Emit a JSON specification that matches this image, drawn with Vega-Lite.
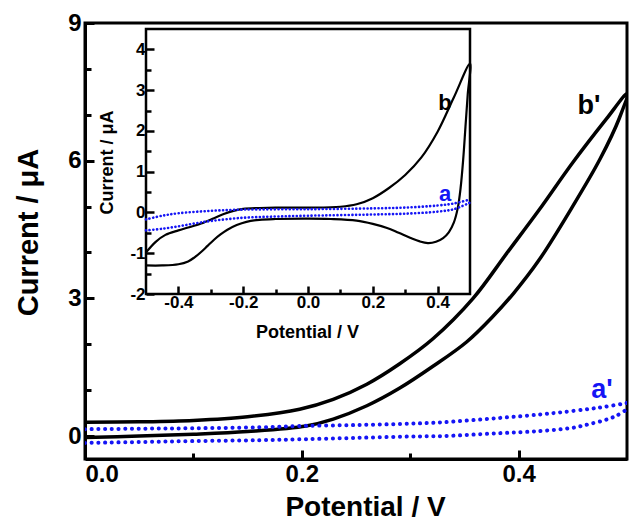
{
  "$schema": "https://vega.github.io/schema/vega-lite/v6.json",
  "width": 542,
  "height": 436,
  "padding": {"left": 85, "top": 23, "right": 2, "bottom": 66},
  "autosize": {"type": "none"},
  "config": {
    "view": {"stroke": "black", "strokeWidth": 3},
    "font": "Liberation Sans",
    "axis": {"grid": false, "labelFont": "Liberation Sans", "labelFontWeight": "bold", "labelColor": "black", "titleFont": "Liberation Sans", "titleFontWeight": "bold", "titleColor": "black", "domainColor": "black", "tickColor": "black"}
  },
  "datasets": {
    "mainB": [
      {"i": 1, "x": 0.0, "y": -0.03}, {"i": 2, "x": 0.05, "y": 0.0}, {"i": 3, "x": 0.1, "y": 0.04}, {"i": 4, "x": 0.15, "y": 0.1},
      {"i": 5, "x": 0.204, "y": 0.22}, {"i": 6, "x": 0.229, "y": 0.37}, {"i": 7, "x": 0.26, "y": 0.66}, {"i": 8, "x": 0.29, "y": 1.04},
      {"i": 9, "x": 0.321, "y": 1.52}, {"i": 10, "x": 0.352, "y": 2.05}, {"i": 11, "x": 0.376, "y": 2.6}, {"i": 12, "x": 0.395, "y": 3.1},
      {"i": 13, "x": 0.419, "y": 3.84}, {"i": 14, "x": 0.45, "y": 5.01}, {"i": 15, "x": 0.475, "y": 6.03}, {"i": 16, "x": 0.493, "y": 6.93},
      {"i": 17, "x": 0.5, "y": 7.46},
      {"i": 18, "x": 0.481, "y": 6.91}, {"i": 19, "x": 0.45, "y": 5.96}, {"i": 20, "x": 0.419, "y": 4.93}, {"i": 21, "x": 0.389, "y": 3.98},
      {"i": 22, "x": 0.358, "y": 3.0}, {"i": 23, "x": 0.321, "y": 2.12}, {"i": 24, "x": 0.29, "y": 1.57}, {"i": 25, "x": 0.26, "y": 1.13},
      {"i": 26, "x": 0.229, "y": 0.8}, {"i": 27, "x": 0.198, "y": 0.585}, {"i": 28, "x": 0.15, "y": 0.42}, {"i": 29, "x": 0.1, "y": 0.34},
      {"i": 30, "x": 0.05, "y": 0.31}, {"i": 31, "x": 0.0, "y": 0.3}
    ],
    "mainA": [
      {"br": "lo", "x": 0.0, "y": -0.15}, {"br": "lo", "x": 0.05, "y": -0.13}, {"br": "lo", "x": 0.1, "y": -0.11}, {"br": "lo", "x": 0.16, "y": -0.09},
      {"br": "lo", "x": 0.2, "y": -0.07}, {"br": "lo", "x": 0.25, "y": -0.04}, {"br": "lo", "x": 0.3, "y": -0.01}, {"br": "lo", "x": 0.33, "y": 0.0},
      {"br": "lo", "x": 0.38, "y": 0.06}, {"br": "lo", "x": 0.42, "y": 0.11}, {"br": "lo", "x": 0.45, "y": 0.18}, {"br": "lo", "x": 0.465, "y": 0.26},
      {"br": "lo", "x": 0.48, "y": 0.35}, {"br": "lo", "x": 0.49, "y": 0.44}, {"br": "lo", "x": 0.5, "y": 0.58},
      {"br": "up", "x": 0.0, "y": 0.15}, {"br": "up", "x": 0.05, "y": 0.16}, {"br": "up", "x": 0.1, "y": 0.17}, {"br": "up", "x": 0.16, "y": 0.19},
      {"br": "up", "x": 0.2, "y": 0.22}, {"br": "up", "x": 0.25, "y": 0.24}, {"br": "up", "x": 0.3, "y": 0.27}, {"br": "up", "x": 0.33, "y": 0.3},
      {"br": "up", "x": 0.38, "y": 0.39}, {"br": "up", "x": 0.42, "y": 0.47}, {"br": "up", "x": 0.44, "y": 0.52}, {"br": "up", "x": 0.465, "y": 0.59},
      {"br": "up", "x": 0.48, "y": 0.64}, {"br": "up", "x": 0.5, "y": 0.72}
    ],
    "mainLabels": [
      {"x": 0.465, "y": 7.2, "t": "b'", "c": "b"},
      {"x": 0.477, "y": 1.0, "t": "a'", "c": "a"}
    ],
    "insetB": [
      {"i": 1, "x": -0.5, "y": -0.98}, {"i": 2, "x": -0.47, "y": -0.72}, {"i": 3, "x": -0.44, "y": -0.55}, {"i": 4, "x": -0.4, "y": -0.44},
      {"i": 5, "x": -0.37, "y": -0.37}, {"i": 6, "x": -0.33, "y": -0.27}, {"i": 7, "x": -0.29, "y": -0.14}, {"i": 8, "x": -0.26, "y": -0.04},
      {"i": 9, "x": -0.23, "y": 0.04}, {"i": 10, "x": -0.2, "y": 0.09}, {"i": 11, "x": -0.15, "y": 0.11}, {"i": 12, "x": -0.1, "y": 0.12},
      {"i": 13, "x": 0.0, "y": 0.12}, {"i": 14, "x": 0.1, "y": 0.14}, {"i": 15, "x": 0.15, "y": 0.2}, {"i": 16, "x": 0.2, "y": 0.35},
      {"i": 17, "x": 0.25, "y": 0.6}, {"i": 18, "x": 0.3, "y": 0.92}, {"i": 19, "x": 0.35, "y": 1.35}, {"i": 20, "x": 0.4, "y": 1.98},
      {"i": 21, "x": 0.45, "y": 2.82}, {"i": 22, "x": 0.5, "y": 3.65},
      {"i": 23, "x": 0.493, "y": 2.9}, {"i": 24, "x": 0.486, "y": 2.1}, {"i": 25, "x": 0.479, "y": 1.3}, {"i": 26, "x": 0.471, "y": 0.6},
      {"i": 27, "x": 0.462, "y": 0.1}, {"i": 28, "x": 0.45, "y": -0.25}, {"i": 29, "x": 0.435, "y": -0.48}, {"i": 30, "x": 0.417, "y": -0.63},
      {"i": 31, "x": 0.395, "y": -0.72}, {"i": 32, "x": 0.37, "y": -0.75}, {"i": 33, "x": 0.345, "y": -0.71}, {"i": 34, "x": 0.315, "y": -0.62},
      {"i": 35, "x": 0.28, "y": -0.5}, {"i": 36, "x": 0.244, "y": -0.38}, {"i": 37, "x": 0.2, "y": -0.28}, {"i": 38, "x": 0.15, "y": -0.2},
      {"i": 39, "x": 0.07, "y": -0.16}, {"i": 40, "x": 0.0, "y": -0.15}, {"i": 41, "x": -0.1, "y": -0.16}, {"i": 42, "x": -0.15, "y": -0.18},
      {"i": 43, "x": -0.19, "y": -0.23}, {"i": 44, "x": -0.22, "y": -0.31}, {"i": 45, "x": -0.25, "y": -0.43}, {"i": 46, "x": -0.27, "y": -0.54},
      {"i": 47, "x": -0.29, "y": -0.67}, {"i": 48, "x": -0.31, "y": -0.82}, {"i": 49, "x": -0.33, "y": -0.97}, {"i": 50, "x": -0.35, "y": -1.1},
      {"i": 51, "x": -0.37, "y": -1.2}, {"i": 52, "x": -0.4, "y": -1.27}, {"i": 53, "x": -0.45, "y": -1.3}, {"i": 54, "x": -0.5, "y": -1.3}
    ],
    "insetA": [
      {"br": "up", "x": -0.5, "y": -0.17}, {"br": "up", "x": -0.45, "y": -0.08}, {"br": "up", "x": -0.4, "y": -0.02}, {"br": "up", "x": -0.3, "y": 0.04},
      {"br": "up", "x": -0.2, "y": 0.07}, {"br": "up", "x": 0.0, "y": 0.08}, {"br": "up", "x": 0.2, "y": 0.1}, {"br": "up", "x": 0.3, "y": 0.12},
      {"br": "up", "x": 0.4, "y": 0.17}, {"br": "up", "x": 0.45, "y": 0.22}, {"br": "up", "x": 0.5, "y": 0.32},
      {"br": "lo", "x": -0.5, "y": -0.44}, {"br": "lo", "x": -0.45, "y": -0.4}, {"br": "lo", "x": -0.4, "y": -0.34}, {"br": "lo", "x": -0.35, "y": -0.27},
      {"br": "lo", "x": -0.3, "y": -0.21}, {"br": "lo", "x": -0.2, "y": -0.13}, {"br": "lo", "x": -0.1, "y": -0.1}, {"br": "lo", "x": 0.0, "y": -0.08},
      {"br": "lo", "x": 0.2, "y": -0.05}, {"br": "lo", "x": 0.3, "y": -0.03}, {"br": "lo", "x": 0.4, "y": 0.02}, {"br": "lo", "x": 0.45, "y": 0.08},
      {"br": "lo", "x": 0.5, "y": 0.24}
    ],
    "insetFrame": [{"x1": -0.5, "x2": 0.5, "y1": -2, "y2": 4.5}],
    "insetLabels": [
      {"x": 0.423, "y": 2.68, "t": "b", "c": "b"},
      {"x": 0.423, "y": 0.45, "t": "a", "c": "a"}
    ]
  },
  "layer": [
    {
      "layer": [
        {
          "data": {"name": "mainB"},
          "mark": {"type": "line", "color": "black", "strokeWidth": 3.5, "clip": true, "interpolate": "catmull-rom"},
          "encoding": {
            "x": {"field": "x", "type": "quantitative", "scale": {"domain": [0, 0.5], "nice": false, "zero": false},
              "axis": {"orient": "bottom", "values": [0, 0.2, 0.4], "format": ".1f", "tickSize": -9, "tickWidth": 3, "domainWidth": 3, "labelFontSize": 24, "labelPadding": 12, "title": "Potential / V", "titleFontSize": 28, "titleX": 280, "titleY": 56, "titleBaseline": "alphabetic"}},
            "y": {"field": "y", "type": "quantitative", "scale": {"domain": [-0.5, 9], "nice": false, "zero": false},
              "axis": {"orient": "left", "values": [0, 3, 6, 9], "tickSize": -9, "tickWidth": 3, "domainWidth": 3, "labelFontSize": 24, "labelPadding": 13, "title": "Current / μA", "titleFontSize": 29, "titleX": -48, "titleY": 209, "titleBaseline": "alphabetic"}},
            "order": {"field": "i", "type": "quantitative"}
          }
        },
        {
          "data": {"name": "mainA"},
          "mark": {"type": "line", "color": "#1515f5", "strokeWidth": 4, "strokeDash": [0.1, 6.6], "strokeCap": "round", "clip": true, "interpolate": "catmull-rom"},
          "encoding": {
            "x": {"field": "x", "type": "quantitative", "axis": null},
            "y": {"field": "y", "type": "quantitative", "axis": null},
            "detail": {"field": "br"}
          }
        },
        {
          "data": {"name": "mainLabels"},
          "mark": {"type": "text", "fontSize": 27, "fontWeight": "bold", "font": "Liberation Sans"},
          "encoding": {
            "x": {"field": "x", "type": "quantitative",
              "axis": {"orient": "bottom", "values": [0.1, 0.3], "labels": false, "domain": false, "tickSize": -6, "tickWidth": 3, "title": null}},
            "y": {"field": "y", "type": "quantitative",
              "axis": {"orient": "left", "values": [1, 2, 4, 5, 7, 8], "labels": false, "domain": false, "tickSize": -6, "tickWidth": 3, "title": null}},
            "text": {"field": "t"},
            "color": {"field": "c", "type": "nominal", "scale": {"domain": ["a", "b"], "range": ["#1515f5", "black"]}, "legend": null}
          }
        }
      ],
      "resolve": {"axis": {"x": "independent", "y": "independent"}}
    },
    {
      "layer": [
        {
          "data": {"name": "insetFrame"},
          "mark": {"type": "rect", "fill": "white", "stroke": "black", "strokeWidth": 2.5},
          "encoding": {
            "x": {"field": "x1", "type": "quantitative", "scale": {"domain": [-0.5, 0.5], "range": [61, 385], "nice": false, "zero": false},
              "axis": {"orient": "bottom", "offset": -165, "zindex": 1, "domain": false, "values": [-0.4, -0.2, 0, 0.2, 0.4], "labelExpr": "replace(format(datum.value, '.1f'), '\u2212', '-')", "tickSize": -8, "tickWidth": 2.5, "labelFontSize": 17, "labelPadding": 8, "title": "Potential / V", "titleFontSize": 18, "titleX": 222, "titleY": 43, "titleBaseline": "alphabetic"}},
            "x2": {"field": "x2"},
            "y": {"field": "y1", "type": "quantitative", "scale": {"domain": [-2, 4.5], "range": [271, 6], "nice": false, "zero": false},
              "axis": {"orient": "left", "offset": -61, "zindex": 1, "domain": false, "values": [-2, -1, 0, 1, 2, 3, 4], "labelExpr": "replace(format(datum.value, 'd'), '\u2212', '-')", "tickSize": -8, "tickWidth": 2.5, "labelFontSize": 17, "labelPadding": 9, "title": "Current / μA", "titleFontSize": 18, "titleX": -34, "titleY": 139, "titleBaseline": "alphabetic"}},
            "y2": {"field": "y2"}
          }
        },
        {
          "data": {"name": "insetB"},
          "mark": {"type": "line", "color": "black", "strokeWidth": 2.2, "interpolate": "catmull-rom"},
          "encoding": {
            "x": {"field": "x", "type": "quantitative", "axis": null},
            "y": {"field": "y", "type": "quantitative", "axis": null},
            "order": {"field": "i", "type": "quantitative"}
          }
        },
        {
          "data": {"name": "insetA"},
          "mark": {"type": "line", "color": "#1515f5", "strokeWidth": 2.6, "strokeDash": [0.1, 3.6], "strokeCap": "round", "interpolate": "catmull-rom"},
          "encoding": {
            "x": {"field": "x", "type": "quantitative", "axis": null},
            "y": {"field": "y", "type": "quantitative", "axis": null},
            "detail": {"field": "br"}
          }
        },
        {
          "data": {"name": "insetLabels"},
          "mark": {"type": "text", "fontSize": 22, "fontWeight": "bold", "font": "Liberation Sans"},
          "encoding": {
            "x": {"field": "x", "type": "quantitative",
              "axis": {"orient": "bottom", "offset": -165, "zindex": 1, "values": [-0.3, -0.1, 0.1, 0.3], "labels": false, "domain": false, "tickSize": -5, "tickWidth": 2.5, "title": null}},
            "y": {"field": "y", "type": "quantitative",
              "axis": {"orient": "left", "offset": -61, "zindex": 1, "values": [-1.5, -0.5, 0.5, 1.5, 2.5, 3.5], "labels": false, "domain": false, "tickSize": -5, "tickWidth": 2.5, "title": null}},
            "text": {"field": "t"},
            "color": {"field": "c", "type": "nominal", "scale": {"domain": ["a", "b"], "range": ["#1515f5", "black"]}, "legend": null}
          }
        }
      ],
      "resolve": {"axis": {"x": "independent", "y": "independent"}}
    }
  ],
  "resolve": {"scale": {"x": "independent", "y": "independent"}, "axis": {"x": "independent", "y": "independent"}}
}
